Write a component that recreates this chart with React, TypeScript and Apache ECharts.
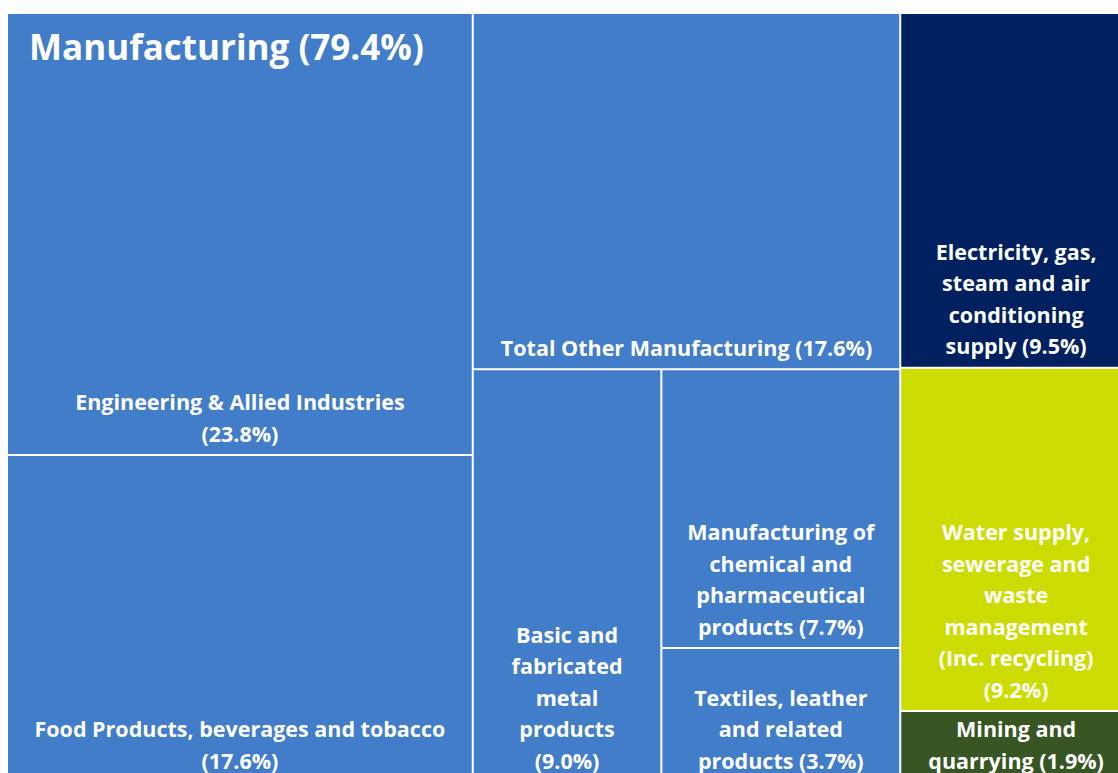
import React, { useEffect, useRef } from "react";
import * as echarts from "echarts";

// ---- data ----
const parentName = "Manufacturing";
const parentShare = 79.4;

const leafNames = [
  "Engineering & Allied Industries",
  "Food Products, beverages and tobacco",
  "Total Other Manufacturing",
  "Basic and fabricated metal products",
  "Manufacturing of chemical and pharmaceutical products",
  "Textiles, leather and related products",
  "Electricity, gas, steam and air conditioning supply",
  "Water supply, sewerage and waste management (Inc. recycling)",
  "Mining and quarrying",
];
const leafShares = [23.8, 17.6, 17.6, 9.0, 7.7, 3.7, 9.5, 9.2, 1.9];
// wrapped label texts as they appear in the chart ({p} = share)
const leafLabels = [
  "Engineering & Allied Industries\n({p}%)",
  "Food Products, beverages and tobacco\n({p}%)",
  "Total Other Manufacturing ({p}%)",
  "Basic and\nfabricated\nmetal\nproducts\n({p}%)",
  "Manufacturing of\nchemical and\npharmaceutical\nproducts ({p}%)",
  "Textiles, leather\nand related\nproducts ({p}%)",
  "Electricity, gas,\nsteam and air\nconditioning\nsupply ({p}%)",
  "Water supply,\nsewerage and\nwaste\nmanagement\n(Inc. recycling)\n({p}%)",
  "Mining and\nquarrying ({p}%)",
];
const leafColors = [
  "#417DC9", "#417DC9", "#417DC9", "#417DC9", "#417DC9", "#417DC9",
  "#002060", "#CCDC00", "#375623",
];

// slice structure of the treemap (numbers = leaf indices)
type TNode = { dir: "h" | "v"; children: (TNode | number)[] };
const manufacturingNode: TNode = {
  dir: "h",
  children: [
    { dir: "v", children: [0, 1] },
    { dir: "v", children: [2, { dir: "h", children: [3, { dir: "v", children: [4, 5] }] }] },
  ],
};
const layoutTree: TNode = {
  dir: "h",
  children: [manufacturingNode, { dir: "v", children: [6, 7, 8] }],
};

function sumNode(n: TNode | number): number {
  if (typeof n === "number") return leafShares[n];
  return n.children.reduce((s, c) => s + sumNode(c), 0);
}

type R = [number, number, number, number];
function layout(n: TNode | number, r: R, out: Record<number, R>, nodeRects: Map<TNode, R>) {
  if (typeof n === "number") {
    out[n] = r;
    return;
  }
  nodeRects.set(n, r);
  const total = sumNode(n);
  let pos = n.dir === "h" ? r[0] : r[1];
  const span = n.dir === "h" ? r[2] - r[0] : r[3] - r[1];
  for (const c of n.children) {
    const len = (sumNode(c) / total) * span;
    const cr: R = n.dir === "h" ? [pos, r[1], pos + len, r[3]] : [r[0], pos, r[2], pos + len];
    layout(c, cr, out, nodeRects);
    pos += len;
  }
}

export default function App() {
  const ref = useRef<HTMLDivElement>(null);
  useEffect(() => {
    if (!ref.current) return;
    const chart = echarts.init(ref.current, undefined, { renderer: "svg" });
    const rects: Record<number, R> = {};
    const nodeRects = new Map<TNode, R>();
    layout(layoutTree, [0, 0, 100, 100], rects, nodeRects);
    const leafData = leafShares.map((_, i) => [...rects[i], i]);
    const mr = nodeRects.get(manufacturingNode)!;

    chart.setOption({
      animation: false,
      grid: { left: 7, top: 13, width: 1125, height: 769 },
      xAxis: { type: "value", min: 0, max: 100, show: false },
      yAxis: { type: "value", min: 0, max: 100, inverse: true, show: false },
      series: [
        {
          type: "custom",
          clip: false,
          data: leafData,
          renderItem: (params: any, api: any) => {
            const i = api.value(4);
            const p0 = api.coord([api.value(0), api.value(1)]);
            const p1 = api.coord([api.value(2), api.value(3)]);
            const label = leafLabels[i].replace("{p}", leafShares[i].toFixed(1));
            return {
              type: "group",
              children: [
                {
                  type: "rect",
                  shape: { x: p0[0] + 1, y: p0[1] + 1, width: p1[0] - p0[0] - 2, height: p1[1] - p0[1] - 2 },
                  style: { fill: leafColors[i] },
                },
                {
                  type: "text",
                  style: {
                    text: label,
                    x: (p0[0] + p1[0]) / 2,
                    y: p1[1] - 6,
                    fill: "#ffffff",
                    font: 'bold 21.5px "Open Sans"',
                    align: "center",
                    verticalAlign: "bottom",
                    lineHeight: 31.5,
                  },
                },
              ],
            };
          },
        },
        {
          type: "custom",
          clip: false,
          data: [[mr[0], mr[1], parentShare]],
          renderItem: (params: any, api: any) => {
            const p0 = api.coord([api.value(0), api.value(1)]);
            return {
              type: "text",
              style: {
                text: `${parentName} (${api.value(2).toFixed(1)}%)`,
                x: p0[0] + 22,
                y: p0[1] + 33,
                fill: "#ffffff",
                font: 'bold 35px "Open Sans"',
                align: "left",
                verticalAlign: "middle",
              },
            };
          },
        },
      ],
    });
    return () => chart.dispose();
  }, []);
  return (
    <div style={{ position: "absolute", left: 0, top: 0, width: 1118, height: 773, overflow: "hidden" }}>
      <div ref={ref} style={{ width: 1150, height: 800 }} />
    </div>
  );
}
